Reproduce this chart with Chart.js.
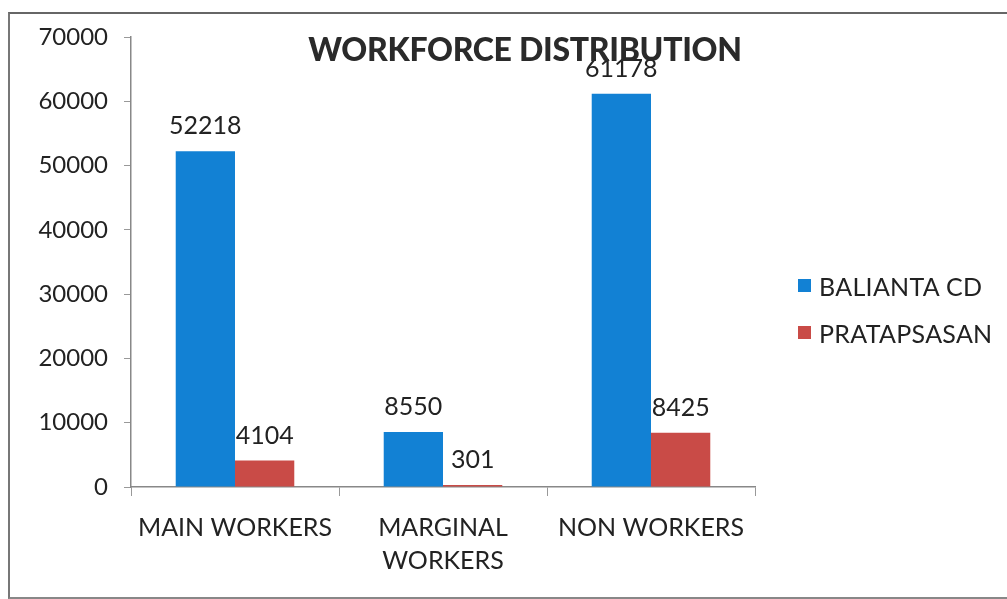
<!DOCTYPE html>
<html>
<head>
<meta charset="utf-8">
<title>Workforce Distribution</title>
<script src="https://cdn.jsdelivr.net/npm/chart.js@4.4.1/dist/chart.umd.min.js"></script>
<style>
  html, body { margin: 0; padding: 0; background: #fff; }
  body { width: 1007px; height: 599px; position: relative; overflow: hidden; font-family: Lato, "Open Sans", sans-serif; color: #222; }
  #frame { position: absolute; left: 8px; top: 12px; width: 1010px; height: 583px; border-left: 2px solid #777; border-top: 2px solid #666; border-bottom: 2px solid #888; }
  #workforceChart { position: absolute; left: 0; top: 0; }
  .chart-title { position: absolute; left: 525px; top: 29px; transform: translateX(-50%); margin: 0; font-size: 32px; font-weight: 900; letter-spacing: -0.3px; white-space: nowrap; color: #2a2a2a; }
  #legend { position: absolute; left: 798px; top: 262px; }
  .legend-item { display: flex; align-items: center; height: 47px; font-size: 25px; letter-spacing: 0.3px; white-space: nowrap; }
  .legend-box { width: 13px; height: 13px; margin-right: 8px; }
</style>
</head>
<body>
<div id="frame"></div>
<canvas id="workforceChart" width="1007" height="599"></canvas>
<h1 class="chart-title">WORKFORCE DISTRIBUTION</h1>
<div id="legend"></div>

<script>
const categories = ["MAIN WORKERS", ["MARGINAL", "WORKERS"], "NON WORKERS"];
const seriesNames = ["BALIANTA CD", "PRATAPSASAN"];
const baliantaValues = [52218, 8550, 61178];
const pratapsasanValues = [4104, 301, 8425];
const seriesColors = ["#1281d4", "#c94b47"];
const yTicks = [0, 10000, 20000, 30000, 40000, 50000, 60000, 70000];

// value labels sitting above each bar
const valueLabels = {
  id: "valueLabels",
  afterDatasetsDraw(chart) {
    const ctx = chart.ctx;
    ctx.save();
    ctx.font = "25px Lato, sans-serif";
    ctx.fillStyle = "#222";
    ctx.textAlign = "center";
    ctx.textBaseline = "alphabetic";
    chart.data.datasets.forEach((ds, i) => {
      chart.getDatasetMeta(i).data.forEach((bar, j) => {
        ctx.fillText(ds.data[j], bar.x, bar.y - 17);
      });
    });
    ctx.restore();
  }
};

const data = {
  labels: categories,
  datasets: [
    { label: seriesNames[0], data: baliantaValues, backgroundColor: seriesColors[0] },
    { label: seriesNames[1], data: pratapsasanValues, backgroundColor: seriesColors[1] }
  ]
};

const config = {
  type: "bar",
  data: data,
  options: {
    responsive: false,
    animation: false,
    categoryPercentage: 0.57,
    barPercentage: 1.0,
    layout: { padding: { top: 37, right: 252, bottom: 0, left: 0 } },
    plugins: {
      legend: { display: false },
      title: { display: false },
      tooltip: { enabled: false }
    },
    scales: {
      x: {
        grid: { offset: true, drawOnChartArea: false, drawTicks: true, tickLength: 9, color: "#999" },
        border: { color: "#888", width: 1.5 },
        ticks: {
          color: "#222",
          font: { family: "Lato, sans-serif", size: 25, lineHeight: 1.3 },
          padding: 16,
          maxRotation: 0,
          autoSkip: false
        },
        afterFit(scale) { scale.height = 112; }
      },
      y: {
        min: 0,
        max: 70000,
        afterBuildTicks(scale) { scale.ticks = yTicks.map(v => ({ value: v })); },
        grid: { drawOnChartArea: false, drawTicks: true, tickLength: 7, color: "#999" },
        border: { color: "#888", width: 1.5 },
        ticks: {
          color: "#222",
          font: { family: "Lato, sans-serif", size: 24 },
          padding: 16,
          callback: (value) => String(value)
        },
        afterFit(scale) { scale.width = 131; }
      }
    }
  },
  plugins: [valueLabels]
};

const chart = new Chart(document.getElementById("workforceChart"), config);

// legend built from the same series names and colours
const legend = document.getElementById("legend");
seriesNames.forEach((name, i) => {
  const item = document.createElement("div");
  item.className = "legend-item";
  const box = document.createElement("span");
  box.className = "legend-box";
  box.style.background = seriesColors[i];
  item.appendChild(box);
  item.appendChild(document.createTextNode(name));
  legend.appendChild(item);
});
</script>
</body>
</html>
